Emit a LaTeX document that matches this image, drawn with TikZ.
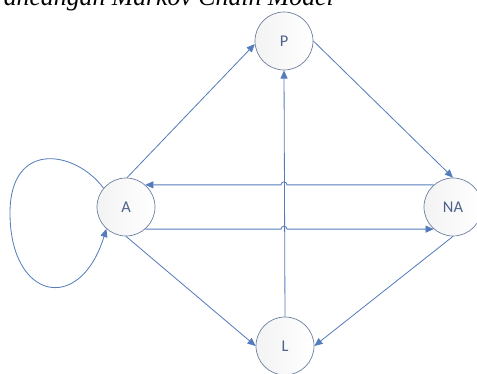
\documentclass[tikz,border=0pt]{standalone}
\usepackage{fontspec}
\setmainfont{Liberation Serif}
\newfontfamily\statefont{Carlito}
\usepackage{xcolor}
\usetikzlibrary{arrows.meta,calc}

\definecolor{linkblue}{RGB}{84,124,188}
\definecolor{ringgrey}{RGB}{108,126,158}
\definecolor{labelblue}{RGB}{78,98,138}

\begin{document}
\begin{tikzpicture}[x=0.03cm, y=0.03cm, state/.style={draw=ringgrey, circle, line width=0.6pt, minimum size=1.74cm, inner sep=0pt, left color=blue!4!gray!9, right color=white, text=labelblue, font=\statefont\fontsize{14}{16}\selectfont}, link/.style={draw=linkblue, line width=0.7pt, -{Triangle[length=7pt,width=6pt]}}, caption/.style={font=\itshape\fontsize{22}{26}\selectfont, inner sep=0pt}]
\useasboundingbox (0,0) rectangle (477,374);
\clip (0,0) rectangle (477,374);
\node[caption, anchor=base east] (title) at (334,368) {ancangan Markov Chain Model};
\node[state] (P) at (284,333) {P};
\node[state] (A) at (126,167) {A};
\node[state] (NA) at (453,167) {NA};
\node[state] (L) at (285,28) {L};
\coordinate (loopleft) at (10,161);
% edges
\draw[link] (A.88) -- (P.186);
\draw[link] (P.east) -- (NA.north);
\draw[link] (L.north) -- (P.south);
\draw[link] (A.south) -- (L.west);
\draw[link] (NA.south) -- (L.east);
\draw[link] (NA.131) -- ($(P.center |- NA.131)+(3,0)$) arc[start angle=0, end angle=180, radius=3] -- (A.49);
\draw[link] (A.-49) -- ($(P.center |- A.-49)+(-3,0)$) arc[start angle=180, end angle=0, radius=3] -- (NA.-131);
% self loop
\draw[link] (A.140) .. controls (75,224) and (10,234) .. (loopleft) .. controls (10,74) and (80,59) .. (A.228);
\end{tikzpicture}
\end{document}
